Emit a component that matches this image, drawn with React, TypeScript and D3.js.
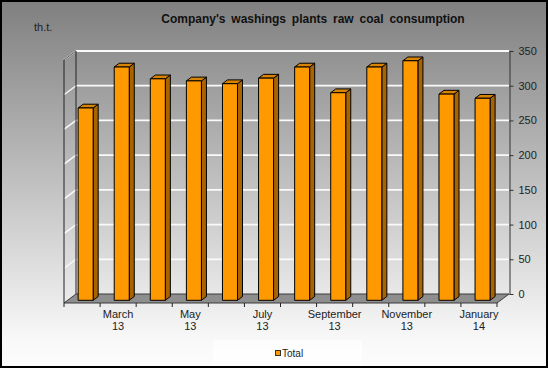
import React, { useRef, useEffect } from 'react';
import * as d3 from 'd3';

const MONTHS = [
  'February', 'March', 'April', 'May', 'June', 'July',
  'August', 'September', 'October', 'November', 'December', 'January',
];
const YEARS = ['13', '13', '13', '13', '13', '13', '13', '13', '13', '13', '13', '14'];
const TOTAL = [277, 336, 319, 316, 312, 320, 336, 299, 336, 345, 297, 291];
const Y_TICKS = [0, 50, 100, 150, 200, 250, 300, 350];

const W = 548;
const H = 368;
const FONT = "'Liberation Sans', Arial, sans-serif";

const BAR_FRONT = '#ff9900';
const BAR_SIDE = '#a86400';
const BAR_TOP = '#d98400';

export default function App() {
  const svgRef = useRef<SVGSVGElement>(null);

  useEffect(() => {
    if (!svgRef.current) return;
    document.body.style.margin = '0';

    const svg = d3.select(svgRef.current);
    svg.selectAll('*').remove();

    // background gradient
    const grad = svg
      .append('defs')
      .append('linearGradient')
      .attr('id', 'bg')
      .attr('x1', 0)
      .attr('y1', 0)
      .attr('x2', 0)
      .attr('y2', 1);
    grad.append('stop').attr('offset', '0%').attr('stop-color', '#7f7f7f');
    grad.append('stop').attr('offset', '92%').attr('stop-color', '#f8f8f8');
    grad.append('stop').attr('offset', '100%').attr('stop-color', '#fdfdfd');
    svg.append('rect').attr('width', W).attr('height', H).attr('fill', 'url(#bg)');

    const keys = MONTHS.map((m, i) => `${m} ${YEARS[i]}`);
    const x = d3.scaleBand<string>().domain(keys).range([64, 497]);
    const y = d3.scaleLinear().domain([0, 350]).range([303, 60]);

    // depth of the walls
    const DX = 12;
    const DY = -9;
    const x0 = x.range()[0];
    const x1 = x.range()[1];

    // floor
    svg
      .append('polygon')
      .attr(
        'points',
        [
          [x0, y(0)],
          [x1, y(0)],
          [x1 + DX, y(0) + DY],
          [x0 + DX, y(0) + DY],
        ]
          .map((p) => p.join(','))
          .join(' ')
      )
      .attr('fill', '#8e8e8e')
      .attr('stroke', '#3a3a3a')
      .attr('stroke-width', 1);

    // gridlines on back and left walls
    const grid = svg.append('g');
    Y_TICKS.filter((t) => t > 0).forEach((t) => {
      grid
        .append('line')
        .attr('x1', x0 + DX)
        .attr('x2', x1 + DX)
        .attr('y1', y(t) + DY)
        .attr('y2', y(t) + DY)
        .attr('stroke', '#fafafa')
        .attr('stroke-width', 1.8);
      grid
        .append('line')
        .attr('x1', x0)
        .attr('x2', x0 + DX)
        .attr('y1', y(t))
        .attr('y2', y(t) + DY)
        .attr('stroke', '#fafafa')
        .attr('stroke-width', 1.4);
    });

    // wall edges
    const edges = svg.append('g').attr('stroke', '#222').attr('fill', 'none');
    edges.append('line').attr('x1', x0).attr('x2', x0).attr('y1', y(350)).attr('y2', y(0));
    edges
      .append('line')
      .attr('x1', x0 + DX)
      .attr('x2', x0 + DX)
      .attr('y1', y(350) + DY)
      .attr('y2', y(0) + DY);
    edges
      .append('line')
      .attr('x1', x0)
      .attr('x2', x0 + DX)
      .attr('y1', y(350))
      .attr('y2', y(350) + DY)
      .attr('stroke', '#555');

    // bars
    const bw = 15;
    const fFront = 0.3;
    const fBack = 0.72;
    const bdx = DX * (fBack - fFront);
    const bdy = DY * (fBack - fFront);
    const bars = svg.append('g').attr('stroke', '#000').attr('stroke-width', 1).attr('stroke-linejoin', 'round');
    keys.forEach((k, i) => {
      const left = (x(k) ?? 0) + (x.bandwidth() - bw) / 2 + DX * fFront;
      const right = left + bw;
      const top = y(TOTAL[i]) + DY * fFront;
      const bottom = y(0) + DY * fFront;
      const pts = (arr: number[][]) => arr.map((p) => p.join(',')).join(' ');
      bars
        .append('polygon')
        .attr('points', pts([[right, top], [right + bdx, top + bdy], [right + bdx, bottom + bdy], [right, bottom]]))
        .attr('fill', BAR_SIDE);
      bars
        .append('polygon')
        .attr('points', pts([[left, top], [left + bdx, top + bdy], [right + bdx, top + bdy], [right, top]]))
        .attr('fill', BAR_TOP);
      bars
        .append('rect')
        .attr('x', left)
        .attr('y', top)
        .attr('width', bw)
        .attr('height', bottom - top)
        .attr('fill', BAR_FRONT);
    });

    // right value axis
    const yBack = d3.scaleLinear().domain([0, 350]).range([y(0) + DY, y(350) + DY]);
    const axisR = svg
      .append('g')
      .attr('transform', `translate(${x1 + DX + 0.5},0)`)
      .call(d3.axisRight(yBack).tickValues(Y_TICKS).tickSizeInner(4).tickSizeOuter(0).tickPadding(5));
    axisR.select('.domain').attr('stroke', '#333');
    axisR.selectAll('.tick line').attr('stroke', '#333');
    axisR
      .selectAll('.tick text')
      .attr('fill', '#222')
      .style('font-family', FONT)
      .style('font-size', '11px');

    // bottom category ticks and labels
    const axisB = svg.append('g').attr('stroke', '#222');
    [...keys.map((k) => x(k) ?? 0), x1].forEach((tx) => {
      axisB
        .append('line')
        .attr('x1', tx)
        .attr('x2', tx)
        .attr('y1', y(0))
        .attr('y2', y(0) + 4);
    });
    const labels = svg
      .append('g')
      .attr('fill', '#222')
      .style('font-family', FONT)
      .style('font-size', '11px')
      .attr('text-anchor', 'middle');
    keys.forEach((k, i) => {
      if (i % 2 === 0) return;
      const cx = (x(k) ?? 0) + x.bandwidth() / 2;
      labels.append('text').attr('x', cx).attr('y', 318).text(MONTHS[i]);
      labels.append('text').attr('x', cx).attr('y', 330).text(YEARS[i]);
    });

    // title and unit
    svg
      .append('text')
      .attr('x', 313)
      .attr('y', 23)
      .attr('text-anchor', 'middle')
      .attr('fill', '#111')
      .style('font-family', FONT)
      .style('font-size', '12px')
      .style('font-weight', 'bold')
      .style('word-spacing', '2.5px')
      .text("Company's washings plants raw coal consumption");
    svg
      .append('text')
      .attr('x', 34)
      .attr('y', 31)
      .attr('fill', '#222')
      .style('font-family', FONT)
      .style('font-size', '11px')
      .text('th.t.');

    // legend
    svg
      .append('rect')
      .attr('x', 213)
      .attr('y', 340)
      .attr('width', 149)
      .attr('height', 25)
      .attr('fill', '#ffffff')
      .attr('opacity', 0.7);
    svg
      .append('rect')
      .attr('x', 275.5)
      .attr('y', 350.5)
      .attr('width', 5)
      .attr('height', 5)
      .attr('fill', BAR_FRONT)
      .attr('stroke', '#333');
    svg
      .append('text')
      .attr('x', 282)
      .attr('y', 357)
      .attr('fill', '#222')
      .style('font-family', FONT)
      .style('font-size', '10px')
      .text('Total');

    // outer frame
    svg
      .append('rect')
      .attr('x', 1)
      .attr('y', 1)
      .attr('width', W - 2)
      .attr('height', H - 2)
      .attr('fill', 'none')
      .attr('stroke', '#000')
      .attr('stroke-width', 2);
  }, []);

  return <svg ref={svgRef} width={W} height={H} style={{ display: 'block' }} />;
}
